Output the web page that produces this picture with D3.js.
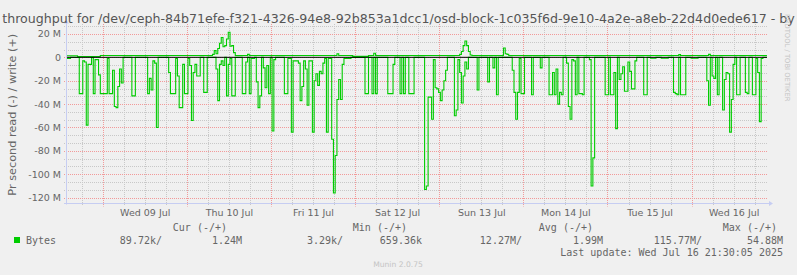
<!DOCTYPE html>
<html><head><meta charset="utf-8">
<script src="https://cdn.jsdelivr.net/npm/d3@7/dist/d3.min.js"></script>
<style>
html,body{margin:0;padding:0;background:#f0f0f0;}
svg{display:block;}
</style></head><body>
<svg id="chart" width="797" height="275"></svg>
<script>
// ---------- DATA ----------
const titleText = "throughput for /dev/ceph-84b71efe-f321-4326-94e8-92b853a1dcc1/osd-block-1c035f6d-9e10-4a2e-a8eb-22d4d0ede617 - by";
const yAxisLabel = "Pr second read (-) / write (+)";
const seriesName = "Bytes";
const startTime = "2025-07-08T13:50:00Z";   // first 30-minute sample
const endTime = "2025-07-16T21:30:00Z";     // last update
const sampleMinutes = 30;
const yTickValues = [20, 0, -20, -40, -60, -80, -100, -120];
const dayLabels = ["Wed 09 Jul","Thu 10 Jul","Fri 11 Jul","Sat 12 Jul","Sun 13 Jul","Mon 14 Jul","Tue 15 Jul","Wed 16 Jul"];
const dayNoons = ["2025-07-09T12:00:00Z","2025-07-10T12:00:00Z","2025-07-11T12:00:00Z","2025-07-12T12:00:00Z","2025-07-13T12:00:00Z","2025-07-14T12:00:00Z","2025-07-15T12:00:00Z","2025-07-16T12:00:00Z"];
// read bytes per second (MB/s), drawn negative
const readMB = [
 1,1,0,0,0,0,0,31,31,3,4,58,6,6,0,31,2,2,15,31,
 31,31,31,1,31,31,11,42,43,25,10,22,0,0,0,0,0,33,33,0,
 0,0,0,0,0,0,31,18,28,3,5,60,0,0,0,0,0,0,13,31,
 31,31,1,16,43,43,6,31,31,1,7,54,13,6,16,16,0,0,30,30,
 0,0,0,0,0,10,37,6,3,7,0,33,6,1,33,33,0,0,0,0,
 31,31,4,0,31,1,1,0,21,43,33,0,9,26,7,31,0,63,2,0,
 0,0,0,0,31,31,1,1,64,3,3,3,5,37,25,3,10,41,3,3,
 64,20,14,24,12,14,5,1,64,1,1,70,116,84,36,19,36,6,1,1,
 1,1,0,0,0,0,0,0,0,0,31,31,0,0,31,0,31,0,0,0,
 0,0,0,31,31,31,6,0,0,0,31,0,31,0,0,31,31,31,0,0,
 0,0,0,0,113,110,34,34,53,2,26,27,30,37,28,20,11,0,0,0,
 0,50,45,2,13,39,16,4,10,0,0,0,0,0,28,0,0,0,0,0,
 21,0,0,9,0,32,0,0,0,0,0,0,0,0,11,30,53,30,1,31,
 31,0,0,0,0,32,0,0,0,0,9,0,0,0,0,32,32,13,32,10,
 40,30,32,0,0,5,42,53,2,3,32,0,31,31,32,0,0,0,2,110,
 86,0,0,0,0,0,0,32,32,0,32,32,13,61,0,19,14,8,29,29,
 4,12,27,27,3,0,0,0,0,32,32,0,0,0.8,0.8,0.8,0,0,0,0.8,
 0.8,0.8,0.8,0,0,0,30,31,32,0,32,32,32,0,0,0,0.8,0.8,0.8,0.8,
 0,0,0,0,0,20,41,0,16,18,0,32,0,0,45,19,13,14,64,36,
 6,0,32,32,0,0,0,30,31,0,0,32,32,1,13,55,1,0,0,0.09
];
// write bytes per second (MB/s), drawn positive
const writeMB = [
 1.4,1.4,1.4,1.4,1.4,1.4,0.6,0.6,0.6,0.6,0.6,0.6,0.6,0.6,0.6,0.6,0.6,0.6,0.6,1.5,
 1.5,1.5,1.5,1.5,1.5,1.5,1.5,1.5,1.5,1.5,1.5,1.5,1.5,1.5,1.5,1.5,1.5,1.5,1.5,1.5,
 1.5,1.5,1.5,1.5,1.5,1.5,1.5,1.5,1.5,1.5,1.5,1.5,1.5,1.5,1.5,1.5,1.5,1.5,1.5,1.5,
 1.5,1.5,1.5,1.5,1.5,1.5,1.5,1.5,1.5,1.5,1.5,1.5,1.5,1.5,1.5,1.5,1.5,1.5,1.5,1.5,
 1.5,1.5,1.5,2.5,5.7,3,7.5,12,17,9,10,15.7,21.5,9.5,10,4,1.5,1.5,1.5,1.5,
 1.5,1.5,1.5,2.5,1.5,1.5,1.5,1.5,1.5,1.5,1.5,1.5,1.5,1.5,1.5,1.5,1.5,1.5,1.5,1.5,
 1.5,1.5,1.5,1.5,1.5,1.5,1.5,1.5,1.5,1.5,1.5,1.5,1.5,1.5,1.5,1.5,1.5,1.5,1.5,1.5,
 1.5,1.5,1.5,1.5,1.5,1.5,1.5,1.5,1.5,1.5,1.5,1.5,1.5,1.5,3,1.5,1.5,1.5,1.5,1.5,
 1.5,1.5,1.5,0.8,0.8,0.8,0.8,0.8,0.8,0.8,0.8,0.8,1.5,1.5,1.5,3.5,1.5,1.5,1.5,1.5,
 1.5,1.5,1.5,1.5,1.5,1.5,1.5,1.5,1.5,1.5,1.5,1.5,1.5,1.5,1.5,1.5,1.5,1.5,1.5,1.5,
 1.5,1.5,1.5,1.5,1.5,1.5,1.5,1.5,1.5,1.5,1.5,1.5,1.5,1.5,1.5,1.5,1.5,1.5,1.5,1.5,
 1.5,1.5,1.5,1.5,2.5,5,10,14,10,5,2,1.5,1.5,1.5,1.5,1.5,1.5,1.5,1.5,1.5,
 1.5,1.5,1.5,1.5,1.5,1.5,1.5,1.5,1.5,8,3,2.5,1.5,1.5,1.5,1.5,1.5,1.5,1.5,1.5,
 1.5,1.5,1.5,1.5,1.5,1.5,1.5,1.5,1.5,1.5,1.5,1.5,1.5,1.5,1.5,1.5,1.5,1.5,1.5,1.5,
 1.5,1.5,1.5,1.5,1.5,1.5,1.5,1.5,1.5,1.5,1.5,1.5,1.5,1.5,1.5,1.5,1.5,1.5,1.5,1.5,
 1.5,1.5,1.5,1.5,1.5,1.5,1.5,1.5,1.5,1.5,1.5,1.5,1.5,1.5,1.5,1.5,1.5,1.5,1.5,1.5,
 1.5,1.5,1.5,1.5,1.5,1.5,1.5,1.5,1.5,1.5,1.5,1.5,1.5,1.5,1.5,1.5,1.5,1.5,1.5,1.5,
 1.5,1.5,1.5,1.5,1.5,1.5,1.5,1.5,1.5,2.3,1.5,1.5,1.5,1.5,1.5,1.5,1.5,1.5,1.5,1.5,
 1.5,1.5,1.5,1.5,1.5,1.5,2.5,1.5,1.5,1.5,1.5,1.5,1.5,1.5,1.5,1.5,1.5,1.5,1.5,1.5,
 1.5,1.5,1.5,1.5,1.5,1.5,1.5,1.5,1.5,1.5,1.5,1.5,1.5,1.5,1.5,1.5,1.5,1.5,1.5,1.24
];
const legendHeaders = ["Cur (-/+)", "Min (-/+)", "Avg (-/+)", "Max (-/+)"];
const legendValues = ["89.72k/", "1.24M", "3.29k/", "659.36k", "12.27M/", "1.99M", "115.77M/", "54.88M"];
const lastUpdate = "Last update: Wed Jul 16 21:30:05 2025";
const footer = "Munin 2.0.75";
const watermark = "RRDTOOL / TOBI OETIKER";

// ---------- LAYOUT ----------
const X0 = 67, X1 = 767, YTOP = 24, YBOT = 203.5;
const txtColor = "#666", sans = "DejaVu Sans", mono = "DejaVu Sans Mono";
const green = "#00cc00";

const svg = d3.select("#chart");
svg.append("rect").attr("width",797).attr("height",275).attr("fill","#f0f0f0");

const t0 = new Date(startTime), t1 = new Date(endTime);
const x = d3.scaleUtc().domain([t0, t1]).range([X0, X1]);
const y = d3.scaleLinear().domain([-125, 28.5]).range([YBOT, YTOP]);
const times = readMB.map((_, i) => new Date(t0.getTime() + i * sampleMinutes * 60000));

// grid
const grid = svg.append("g");
const minorY = d3.range(-120, 28.5, 20/3).filter(v => Math.abs(v % 20) > 0.01 && Math.abs(Math.abs(v % 20) - 20) > 0.01);
grid.selectAll(".hmin").data(minorY).join("line")
  .attr("x1", X0 - 3).attr("x2", X1).attr("y1", d => Math.round(y(d)) + 0.5).attr("y2", d => Math.round(y(d)) + 0.5)
  .attr("stroke", "#c8c8c8").attr("stroke-dasharray", "1,1");
const minorX = d3.utcHour.every(6).range(t0, t1).filter(d => d.getUTCHours() !== 0);
grid.selectAll(".vmin").data(minorX).join("line")
  .attr("x1", d => Math.round(x(d)) + 0.5).attr("x2", d => Math.round(x(d)) + 0.5)
  .attr("y1", YTOP).attr("y2", YBOT + 2)
  .attr("stroke", "#c8c8c8").attr("stroke-dasharray", "1,1");
const majorX = d3.utcDay.range(t0, t1);
grid.selectAll(".vmaj").data(majorX).join("line")
  .attr("x1", d => Math.round(x(d)) + 0.5).attr("x2", d => Math.round(x(d)) + 0.5)
  .attr("y1", YTOP).attr("y2", YBOT + 3)
  .attr("stroke", "#f29a9a").attr("stroke-dasharray", "1,1");
grid.selectAll(".hmaj").data(yTickValues).join("line")
  .attr("x1", X0 - 3).attr("x2", X1).attr("y1", d => Math.round(y(d)) + 0.5).attr("y2", d => Math.round(y(d)) + 0.5)
  .attr("stroke", "#f29a9a").attr("stroke-dasharray", "1,1");

// axes lines
const axisColor = "#c6cdf2";
svg.append("line").attr("x1", X0 - 0.5).attr("x2", X0 - 0.5).attr("y1", YTOP - 1).attr("y2", YBOT + 1)
  .attr("stroke", axisColor);
svg.append("line").attr("x1", X0 - 3).attr("x2", X1 + 3).attr("y1", YBOT).attr("y2", YBOT)
  .attr("stroke", axisColor);
svg.append("path").attr("d", `M${X0-3},${YTOP-0.5} L${X0-0.5},${YTOP-4} L${X0+2},${YTOP-0.5} Z`).attr("fill", axisColor);
svg.append("path").attr("d", `M${X1+2},${YBOT-2.5} L${X1+6},${YBOT} L${X1+2},${YBOT+2.5} Z`).attr("fill", axisColor);

// y axis labels
const yAxis = d3.axisLeft(y).tickValues(yTickValues).tickSize(0).tickPadding(6)
  .tickFormat(v => v === 0 ? "0" : v + " M");
const gy = svg.append("g").attr("transform", `translate(${X0},0)`).call(yAxis);
gy.select(".domain").remove();
gy.selectAll("text").attr("font-family", sans).attr("font-size", "9.5px").attr("fill", txtColor);

// x axis labels
const noons = dayNoons.map(s => new Date(s));
const xAxis = d3.axisBottom(x).tickValues(noons).tickSize(0).tickPadding(0)
  .tickFormat((d, i) => dayLabels[i]);
const gx = svg.append("g").attr("transform", `translate(0,${YBOT})`).call(xAxis);
gx.select(".domain").remove();
gx.selectAll("text").attr("font-family", sans).attr("font-size", "9.5px").attr("fill", txtColor)
  .attr("dy", null).attr("y", 12.5);

// data lines
const readLine = d3.line().x((d, i) => x(times[i])).y(d => y(-d)).curve(d3.curveStepAfter);
const writeLine = d3.line().x((d, i) => x(times[i])).y(d => y(d)).curve(d3.curveStepAfter);
svg.append("path").attr("d", readLine(readMB)).attr("fill", "none").attr("stroke", green).attr("stroke-width", 1.1);
svg.append("path").attr("d", writeLine(writeMB)).attr("fill", "none").attr("stroke", green).attr("stroke-width", 1.1);
// zero rule
svg.append("line").attr("x1", X0).attr("x2", X1).attr("y1", y(0)).attr("y2", y(0)).attr("stroke", "#000").attr("stroke-width", 1);

// title (visible part of the reference title, fitted to the width)
const title = svg.append("text").attr("x", 398.5).attr("y", 23).attr("text-anchor", "middle")
  .attr("font-family", sans).attr("font-size", "12.8px").attr("fill", "#555").text(titleText);
const tw = title.node().getComputedTextLength();
if (tw > 793) title.attr("font-size", (12.8 * 793 / tw).toFixed(2) + "px");

// y axis title
svg.append("text").attr("transform", `translate(15.5,${(YTOP+YBOT)/2 + 1}) rotate(-90)`)
  .attr("text-anchor", "middle").attr("font-family", sans).attr("font-size", "11.3px").attr("fill", txtColor)
  .text(yAxisLabel);

// watermark
svg.append("text").attr("transform", `translate(784.5,14) rotate(90)`)
  .attr("font-family", sans).attr("font-size", "6.8px").attr("fill", "#c4c4c4").text(watermark);

// legend
const lg = svg.append("g").attr("font-family", mono).attr("font-size", "10px").attr("fill", txtColor);
const headerRight = [227, 407, 593, 777];
legendHeaders.forEach((h, i) => lg.append("text").attr("x", headerRight[i]).attr("y", 231).attr("text-anchor", "end").text(h));
const valueRight = [162, 242, 343, 422, 522, 603, 702, 783];
legendValues.forEach((v, i) => lg.append("text").attr("x", valueRight[i]).attr("y", 243.5).attr("text-anchor", "end").text(v));
svg.append("rect").attr("x", 14).attr("y", 237).attr("width", 6).attr("height", 6).attr("fill", green);
lg.append("text").attr("x", 26).attr("y", 243.5).text(seriesName);
lg.append("text").attr("x", 783).attr("y", 255.5).attr("text-anchor", "end").text(lastUpdate);
svg.append("text").attr("x", 398).attr("y", 267).attr("text-anchor", "middle")
  .attr("font-family", sans).attr("font-size", "7.6px").attr("fill", "#c4c4c4").text(footer);
</script>
</body></html>
